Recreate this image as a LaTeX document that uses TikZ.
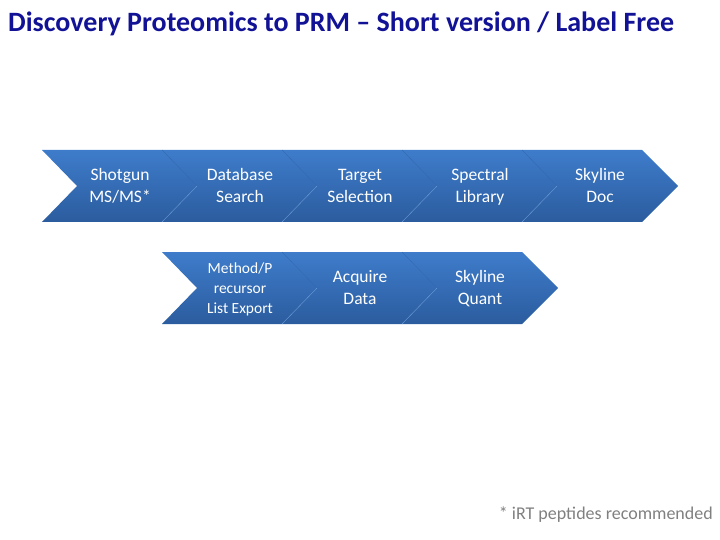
\documentclass[tikz,border=0pt]{standalone}
\usepackage{fontspec}
\setmainfont{Carlito}
\begin{document}
\begin{tikzpicture}[x=1pt,y=-1pt,font=\fontsize{17.5}{22}\selectfont]
  \tikzset{
    flow/.style={top color=stepTop,bottom color=stepBot,draw=none},
    seam/.style={draw=stepBot!60!stepTop,line width=0.4pt},
    seamlow/.style={draw=stepTop!75!white,line width=0.4pt},
    steptext/.style={text=white,align=center,inner sep=0pt},
    title/.style={font=\fontsize{28}{32}\selectfont\bfseries,text=titleBlue,anchor=base west,inner sep=0pt},
    note/.style={font=\fontsize{18}{20}\selectfont,text=black!50,anchor=base east,inner sep=0pt}
  }
  \definecolor{stepTop}{RGB}{62,124,203}
  \definecolor{stepBot}{RGB}{43,92,158}
  \definecolor{titleBlue}{RGB}{18,18,150}
  \useasboundingbox (0,0) rectangle (720,540);

  \node[title] (head) at (8,32) {Discovery Proteomics to PRM -- Short version / Label Free};

  % Upper row: five steps.
  \shade[flow] (42,150) -- (642,150) -- (678,186) -- (642,222) -- (42,222) -- (77,186) -- cycle;
  \foreach \x in {162,282,402,522} {
    \draw[seam] (\x,150) -- (\x+35,186);
    \draw[seamlow] (\x+35,186) -- (\x,222);
  }
  \node[steptext] (shotgun) at (120,187) {Shotgun\strut\\MS/MS*\strut};
  \node[steptext] (dbsearch) at (240,187) {Database\strut\\Search\strut};
  \node[steptext] (target) at (360,187) {Target\strut\\Selection\strut};
  \node[steptext] (speclib) at (480,187) {Spectral\strut\\Library\strut};
  \node[steptext] (skydoc) at (600,187) {Skyline\strut\\Doc\strut};

  % Lower row: three steps.
  \shade[flow] (162,252) -- (522,252) -- (558,288) -- (522,324) -- (162,324) -- (197,288) -- cycle;
  \foreach \x in {282,402} {
    \draw[seam] (\x,252) -- (\x+35,288);
    \draw[seamlow] (\x+35,288) -- (\x,324);
  }
  \node[steptext,font=\fontsize{15.5}{20}\selectfont] (export) at (240,289) {Method/P\strut\\recursor\strut\\List Export\strut};
  \node[steptext] (acquire) at (360,289) {Acquire\strut\\Data\strut};
  \node[steptext] (quant) at (480,289) {Skyline\strut\\Quant\strut};

  \node[note] (irt) at (713,519) {* iRT peptides recommended};
\end{tikzpicture}
\end{document}
